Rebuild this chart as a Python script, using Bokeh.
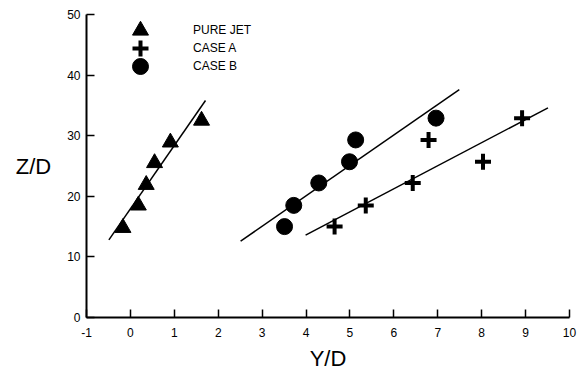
from bokeh.plotting import figure
from bokeh.models import Legend, LegendItem
from bokeh.embed import file_html
from bokeh.resources import INLINE

# Data
pure_jet_y = [-0.17, 0.18, 0.36, 0.55, 0.91, 1.62]
pure_jet_z = [14.8, 18.5, 21.9, 25.5, 28.9, 32.5]
case_a_y = [4.65, 5.36, 6.43, 8.03, 6.79, 8.92]
case_a_z = [15.0, 18.5, 22.2, 25.7, 29.3, 32.9]
case_b_y = [3.51, 3.72, 4.29, 4.99, 5.13, 6.96]
case_b_z = [15.0, 18.5, 22.2, 25.7, 29.3, 32.9]

# Fitted lines (end points)
pure_fit_y = [-0.49, 1.71]
pure_fit_z = [12.8, 35.8]
case_a_fit_y = [3.99, 9.51]
case_a_fit_z = [13.6, 34.6]
case_b_fit_y = [2.51, 7.49]
case_b_fit_z = [12.6, 37.6]

series_labels = ["PURE JET", "CASE A", "CASE B"]
x_ticks = list(range(-1, 11))
x_tick_labels = ["-1", "0", "1", "2", "3", "4", "5", "6", "7", "8", "9", "10"]
y_ticks = [0, 10, 20, 30, 40, 50]

FONT = "Liberation Sans"

p = figure(frame_width=483, frame_height=303,
           min_border_left=86, min_border_right=16,
           min_border_top=14, min_border_bottom=52,
           x_range=(-1, 10), y_range=(0, 50),
           output_backend="svg", toolbar_location=None,
           background_fill_color="white", border_fill_color="white")
p.xgrid.visible = False
p.ygrid.visible = False
p.outline_line_color = None

for ax in (p.xaxis[0], p.yaxis[0]):
    ax.axis_line_width = 2
    ax.axis_line_color = "black"
    ax.major_tick_line_width = 1.5
    ax.major_tick_line_color = "black"
    ax.major_tick_in = 8
    ax.major_tick_out = 0
    ax.minor_tick_in = 0
    ax.minor_tick_out = 0
    ax.major_label_text_font = FONT
    ax.major_label_text_font_size = "12px"
    ax.major_label_text_color = "black"
    ax.axis_label_text_font = FONT
    ax.axis_label_text_font_size = "22px"
    ax.axis_label_text_font_style = "normal"
    ax.axis_label_text_color = "black"

p.xaxis.ticker = x_ticks
p.xaxis.major_label_overrides = {t: s for t, s in zip(x_ticks, x_tick_labels)}
p.yaxis.ticker = y_ticks
p.xaxis.axis_label = "Y/D"
p.yaxis.axis_label = "Z/D"
p.yaxis.axis_label_orientation = "horizontal"
p.xaxis.major_label_standoff = 10
p.yaxis.major_label_standoff = 6
p.xaxis.axis_label_standoff = 6
p.yaxis.axis_label_standoff = 13

# fitted lines
p.line(pure_fit_y, pure_fit_z, line_color="black", line_width=1.5)
p.line(case_a_fit_y, case_a_fit_z, line_color="black", line_width=1.5)
p.line(case_b_fit_y, case_b_fit_z, line_color="black", line_width=1.5)

tri = p.scatter(pure_jet_y, pure_jet_z, marker="triangle", size=16,
                fill_color="black", line_color="black", line_width=1)
crs = p.scatter(case_a_y, case_a_z, marker="cross", size=16,
                line_color="black", line_width=4)
cir = p.scatter(case_b_y, case_b_z, marker="circle", size=16,
                fill_color="black", line_color="black", line_width=1)

# one legend per entry so the rows can sit close together with large markers
legend_positions = [(34, 267), (34, 249), (34, 231)]
for label, rend, loc in zip(series_labels, [tri, crs, cir], legend_positions):
    lg = Legend(items=[LegendItem(label=label, renderers=[rend])],
                location=loc, glyph_width=40, glyph_height=40,
                label_standoff=33, padding=0, margin=0,
                border_line_color=None, background_fill_alpha=0,
                label_text_font=FONT, label_text_font_size="12px",
                label_text_color="black", label_height=18)
    p.add_layout(lg)

open("out.html", "w").write(file_html(p, INLINE))
